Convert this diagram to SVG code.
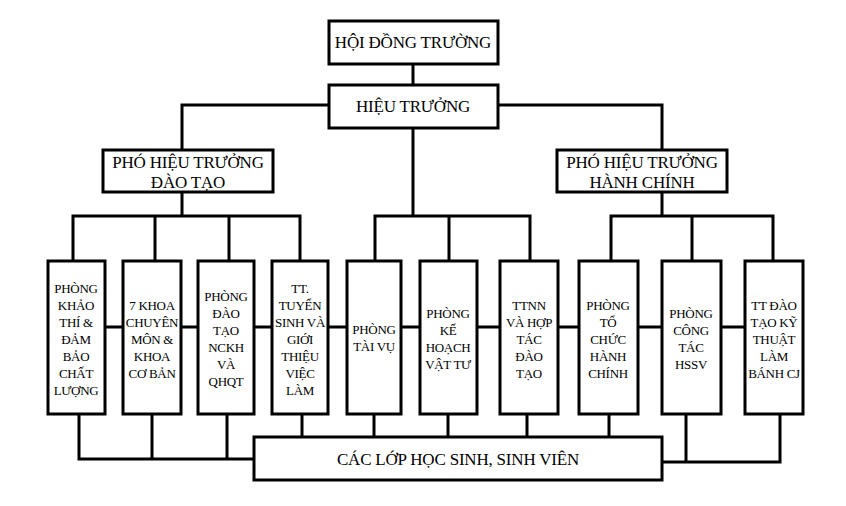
<svg xmlns="http://www.w3.org/2000/svg" width="846" height="506" viewBox="0 0 846 506">
<style>
rect{fill:#fff;stroke:#000;stroke-width:3}
.c line,.c polyline{stroke:#000;stroke-width:3;fill:none}
text{font-family:"Liberation Serif","Times New Roman",serif;font-size:13px;letter-spacing:-0.3px;text-anchor:middle;fill:#000}
.b{font-size:17px;letter-spacing:-0.2px}
</style>
<rect width="846" height="506" style="stroke:none"/>
<g class="c">
<line x1="413" y1="64" x2="413" y2="85"/>
<polyline points="182,150 182,105 655,105 662,105 662,150"/>
<line x1="413" y1="128" x2="413" y2="216"/>
<polyline points="182,192 182,216"/>
<polyline points="73,261 73,216 300,216 300,261"/>
<line x1="155" y1="216" x2="155" y2="261"/>
<line x1="229" y1="216" x2="229" y2="261"/>
<polyline points="375,261 375,216 530,216 530,261"/>
<line x1="449" y1="216" x2="449" y2="261"/>
<polyline points="662,192 662,216"/>
<polyline points="611,261 611,216 773,216 773,261"/>
<line x1="692" y1="216" x2="692" y2="261"/>
<line x1="105" y1="327" x2="745" y2="327"/>
<polyline points="79,414 79,459 254,459"/>
<line x1="152" y1="414" x2="152" y2="459"/>
<line x1="227" y1="414" x2="227" y2="459"/>
<line x1="302" y1="414" x2="302" y2="437"/>
<line x1="374" y1="414" x2="374" y2="437"/>
<line x1="448" y1="414" x2="448" y2="437"/>
<line x1="527" y1="414" x2="527" y2="437"/>
<line x1="609" y1="414" x2="609" y2="437"/>
<polyline points="662,462 780,462 780,414"/>
<line x1="686" y1="414" x2="686" y2="462"/>
</g>
<g id="hdt"><rect x="329" y="21" width="169" height="43"/><text class="b" x="413" y="48">HỘI ĐỒNG TRƯỜNG</text></g>
<g id="ht"><rect x="329" y="85" width="169" height="43"/><text class="b" x="413" y="112">HIỆU TRƯỞNG</text></g>
<g id="phtdt"><rect x="103" y="150" width="170" height="42"/><text class="b" x="188" y="168">PHÓ HIỆU TRƯỞNG</text><text class="b" x="188" y="188">ĐÀO TẠO</text></g>
<g id="phthc"><rect x="557" y="150" width="170" height="42"/><text class="b" x="642" y="168">PHÓ HIỆU TRƯỞNG</text><text class="b" x="642" y="188">HÀNH CHÍNH</text></g>
<g id="n1"><rect x="48" y="261" width="57" height="153"/><text x="76" y="293">PHÒNG</text><text x="76" y="310">KHẢO</text><text x="76" y="327">THÍ &amp;</text><text x="76" y="344">ĐẢM</text><text x="76" y="361">BẢO</text><text x="76" y="378">CHẤT</text><text x="76" y="395">LƯỢNG</text></g>
<g id="n2"><rect x="123" y="261" width="58" height="153"/><text x="152" y="310">7 KHOA</text><text x="152" y="327">CHUYÊN</text><text x="152" y="344">MÔN &amp;</text><text x="152" y="361">KHOA</text><text x="152" y="378">CƠ BẢN</text></g>
<g id="n3"><rect x="198" y="261" width="56" height="153"/><text x="226" y="301">PHÒNG</text><text x="226" y="318">ĐÀO</text><text x="226" y="335">TẠO</text><text x="226" y="352">NCKH</text><text x="226" y="369">VÀ</text><text x="226" y="386">QHQT</text></g>
<g id="n4"><rect x="272" y="261" width="56" height="153"/><text x="300" y="293">TT.</text><text x="300" y="310">TUYỂN</text><text x="300" y="327">SINH VÀ</text><text x="300" y="344">GIỚI</text><text x="300" y="361">THIỆU</text><text x="300" y="378">VIỆC</text><text x="300" y="395">LÀM</text></g>
<g id="n5"><rect x="347" y="261" width="54" height="153"/><text x="374" y="334">PHÒNG</text><text x="374" y="351">TÀI VỤ</text></g>
<g id="n6"><rect x="420" y="261" width="57" height="153"/><text x="448" y="318">PHÒNG</text><text x="448" y="335">KẾ</text><text x="448" y="352">HOẠCH</text><text x="448" y="369">VẬT TƯ</text></g>
<g id="n7"><rect x="500" y="261" width="58" height="153"/><text x="529" y="310">TTNN</text><text x="529" y="327">VÀ HỢP</text><text x="529" y="344">TÁC</text><text x="529" y="361">ĐÀO</text><text x="529" y="378">TẠO</text></g>
<g id="n8"><rect x="579" y="261" width="59" height="153"/><text x="608" y="310">PHÒNG</text><text x="608" y="327">TỔ</text><text x="608" y="344">CHỨC</text><text x="608" y="361">HÀNH</text><text x="608" y="378">CHÍNH</text></g>
<g id="n9"><rect x="662" y="261" width="59" height="153"/><text x="691" y="318">PHÒNG</text><text x="691" y="335">CÔNG</text><text x="691" y="352">TÁC</text><text x="691" y="369">HSSV</text></g>
<g id="n10"><rect x="745" y="261" width="58" height="153"/><text x="774" y="310">TT ĐÀO</text><text x="774" y="327">TẠO KỸ</text><text x="774" y="344">THUẬT</text><text x="774" y="361">LÀM</text><text x="774" y="378">BÁNH CJ</text></g>
<g id="cl"><rect x="254" y="437" width="408" height="43"/><text class="b" x="458" y="465">CÁC LỚP HỌC SINH, SINH VIÊN</text></g>
</svg>
